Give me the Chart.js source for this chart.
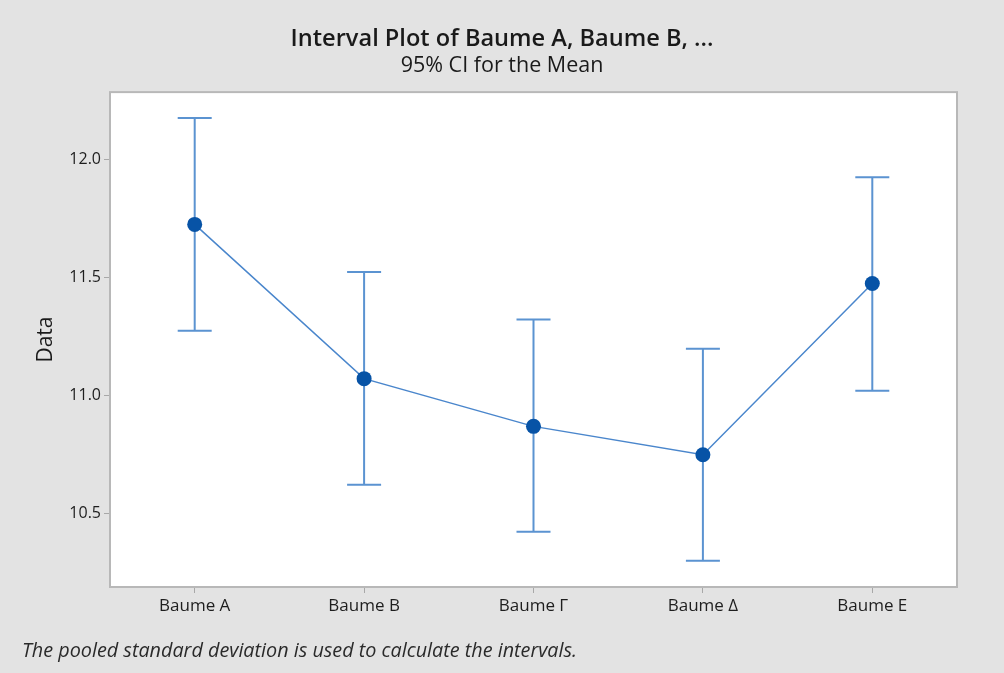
<!DOCTYPE html>
<html>
<head>
<meta charset="utf-8">
<script src="https://cdn.jsdelivr.net/npm/chart.js@4/dist/chart.umd.min.js"></script>
<style>
  html, body { margin: 0; padding: 0; background: #e3e3e3; }
  #wrap { position: relative; width: 1004px; height: 673px; background: #e3e3e3; }
  #c { position: absolute; left: 0; top: 0; }
  #note { position: absolute; left: 22px; top: 640px; font-family: "Open Sans", sans-serif;
          font-style: italic; font-size: 19.8px; line-height: 20px; color: #2a2a2a; white-space: nowrap; }
</style>
</head>
<body>
<div id="wrap">
  <canvas id="c" width="1004" height="673"></canvas>
  <div id="note">The pooled standard deviation is used to calculate the intervals.</div>
</div>
<script>
const categories = ['Baume A', 'Baume B', 'Baume Γ', 'Baume Δ', 'Baume E'];
const means   = [11.725, 11.072, 10.870, 10.750, 11.475];
const ciLower = [11.275, 10.623, 10.424, 10.301, 11.021];
const ciUpper = [12.175, 11.524, 11.322, 11.199, 11.925];
const yTicks  = [10.5, 11.0, 11.5, 12.0];
const titleText = 'Interval Plot of Baume A, Baume B, ...';
const subtitleText = '95% CI for the Mean';
const yTitle = 'Data';

const FONT = '"Open Sans", sans-serif';

const errorBars = {
  id: 'errorBars',
  beforeDatasetsDraw(chart) {
    const ctx = chart.ctx, xs = chart.scales.x, ys = chart.scales.y;
    ctx.save();
    ctx.strokeStyle = '#5b93d1';
    ctx.lineWidth = 2;
    const cap = 17;
    for (let i = 0; i < categories.length; i++) {
      const x = xs.getPixelForValue(i);
      const yl = ys.getPixelForValue(ciLower[i]);
      const yu = ys.getPixelForValue(ciUpper[i]);
      ctx.beginPath();
      ctx.moveTo(x, yl); ctx.lineTo(x, yu);
      ctx.moveTo(x - cap, yl); ctx.lineTo(x + cap, yl);
      ctx.moveTo(x - cap, yu); ctx.lineTo(x + cap, yu);
      ctx.stroke();
    }
    ctx.restore();
  }
};

const plotBox = {
  id: 'plotBox',
  beforeDraw(chart) {
    const ctx = chart.ctx, a = chart.chartArea;
    ctx.save();
    ctx.fillStyle = '#e3e3e3';
    ctx.fillRect(0, 0, chart.width, chart.height);
    ctx.fillStyle = '#ffffff';
    ctx.fillRect(a.left, a.top, a.right - a.left, a.bottom - a.top);
    ctx.restore();
  },
  afterDraw(chart) {
    const ctx = chart.ctx, a = chart.chartArea;
    ctx.save();
    ctx.strokeStyle = '#b8b8b8';
    ctx.lineWidth = 2;
    ctx.strokeRect(a.left, a.top, a.right - a.left, a.bottom - a.top);
    ctx.restore();
  }
};

new Chart(document.getElementById('c'), {
  type: 'line',
  data: {
    labels: categories,
    datasets: [{
      data: means,
      borderColor: '#4a86cc',
      borderWidth: 1.5,
      pointRadius: 7.5,
      pointHoverRadius: 7.5,
      pointBackgroundColor: '#0753a6',
      pointBorderColor: '#0753a6',
      pointBorderWidth: 0,
      tension: 0,
      fill: false
    }]
  },
  options: {
    responsive: false,
    animation: false,
    events: [],
    layout: { padding: { left: 0, right: 0, top: 0, bottom: 0 } },
    plugins: {
      legend: { display: false },
      tooltip: { enabled: false },
      title: {
        display: true, text: titleText, color: '#1a1a1a',
        font: { family: FONT, size: 23.6, weight: '600' },
        padding: { top: 25, bottom: 0 }
      },
      subtitle: {
        display: true, text: subtitleText, color: '#1a1a1a',
        font: { family: FONT, size: 21.5, weight: '500' },
        padding: { top: 0, bottom: 13 }
      }
    },
    scales: {
      x: {
        type: 'category',
        offset: true,
        grid: { display: true, drawOnChartArea: false, drawTicks: true, tickLength: 6, color: '#a8a8a8', offset: false },
        border: { display: false },
        ticks: { color: '#1e1e1e', font: { family: FONT, size: 17, weight: '500' }, padding: 3, maxRotation: 0 },
        afterFit(s) { s.height = 86; }
      },
      y: {
        type: 'linear',
        min: 10.19, max: 12.285,
        grid: { display: true, drawOnChartArea: false, drawTicks: true, tickLength: 6, color: '#a8a8a8' },
        border: { display: false },
        afterBuildTicks(s) { s.ticks = yTicks.map(v => ({ value: v })); },
        ticks: { color: '#1e1e1e', font: { family: FONT, size: 16, weight: '500' }, padding: 3,
                 callback: v => Number(v).toFixed(1) },
        title: { display: true, text: yTitle, color: '#1a1a1a',
                 font: { family: FONT, size: 21, weight: '500' }, padding: { top: 33, bottom: 0 } },
        afterFit(s) { s.width = 110; }
      },
      yRight: {
        type: 'linear',
        position: 'right',
        display: true,
        grid: { display: false },
        border: { display: false },
        ticks: { display: false },
        afterFit(s) { s.width = 47; }
      }
    }
  },
  plugins: [plotBox, errorBars]
});
</script>
</body>
</html>
